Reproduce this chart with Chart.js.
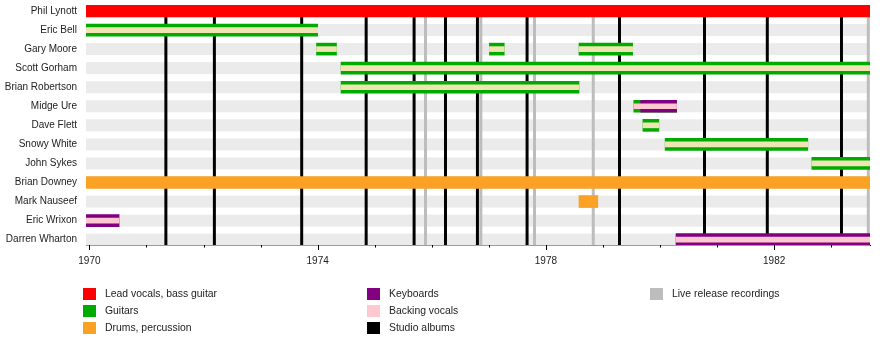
<!DOCTYPE html>
<html>
<head>
<meta charset="utf-8">
<title>Thin Lizzy timeline</title>
<script src="https://cdn.jsdelivr.net/npm/chart.js@4.4.0/dist/chart.umd.min.js"></script>
<style>
    body { margin: 0; background: #fff; }
    #wrap { position: relative; width: 890px; height: 345px; }
    #timeline { position: absolute; left: 0; top: 0; }
    .legend { position: absolute; font: 10.4px 'Liberation Sans', Arial, sans-serif; color: #222; }
    .legend div { position: absolute; white-space: nowrap; height: 12px; line-height: 12px; }
    .legend span { position: absolute; left: 0; top: 0; width: 13px; height: 12px; }
    .legend b { position: absolute; left: 22px; top: 0; font-weight: normal; }
</style>
</head>
<body>
<div id="wrap">
    <canvas id="timeline" width="890" height="345"></canvas>
    <div class="legend" id="legend"></div>
</div>
<script>
// Band members, top to bottom
const members = [
    'Phil Lynott', 'Eric Bell', 'Gary Moore', 'Scott Gorham', 'Brian Robertson',
    'Midge Ure', 'Dave Flett', 'Snowy White', 'John Sykes', 'Brian Downey',
    'Mark Nauseef', 'Eric Wrixon', 'Darren Wharton'
];

const timelineStart = 1969.94;
const timelineEnd = 1983.68;

// Periods per role: [member, from, to] in decimal years
const vocalsBass = [
    ['Phil Lynott', 1969.94, 1983.68]
];
const guitars = [
    ['Eric Bell', 1969.94, 1974.0],
    ['Gary Moore', 1973.98, 1974.33],
    ['Gary Moore', 1977.01, 1977.27],
    ['Gary Moore', 1978.58, 1979.52],
    ['Scott Gorham', 1974.41, 1983.68],
    ['Brian Robertson', 1974.41, 1978.58],
    ['Midge Ure', 1979.54, 1980.29],
    ['Dave Flett', 1979.70, 1979.98],
    ['Snowy White', 1980.09, 1982.59],
    ['John Sykes', 1982.66, 1983.68]
];
const drums = [
    ['Brian Downey', 1969.94, 1983.68],
    ['Mark Nauseef', 1978.58, 1978.91]
];
const keyboards = [
    ['Midge Ure', 1979.66, 1980.29],
    ['Eric Wrixon', 1969.94, 1970.52],
    ['Darren Wharton', 1980.28, 1983.68]
];
const backingVocals = [
    ['Eric Bell', 1969.94, 1974.0],
    ['Gary Moore', 1973.98, 1974.33],
    ['Gary Moore', 1977.01, 1977.27],
    ['Gary Moore', 1978.58, 1979.52],
    ['Scott Gorham', 1974.41, 1983.68],
    ['Brian Robertson', 1974.41, 1978.58],
    ['Midge Ure', 1979.54, 1980.29],
    ['Dave Flett', 1979.70, 1979.98],
    ['Snowy White', 1980.09, 1982.59],
    ['John Sykes', 1982.66, 1983.68],
    ['Eric Wrixon', 1969.94, 1970.52],
    ['Darren Wharton', 1980.28, 1983.68]
];

// Release dates
const studioAlbums = [1971.34, 1972.19, 1973.72, 1974.85, 1975.69, 1976.24, 1976.80, 1977.67, 1979.29, 1980.78, 1981.88, 1983.18];
const liveAlbums = [1975.89, 1976.86, 1977.80, 1978.83, 1983.65];

const years = [1970, 1971, 1972, 1973, 1974, 1975, 1976, 1977, 1978, 1979, 1980, 1981, 1982, 1983];

const colors = {
    vocals: '#ff0000',
    guitars: '#00ab00',
    drums: '#fba225',
    keyboards: '#800080',
    backing: '#ffc8d0',
    backingOnGuitar: '#f0e4b4',
    studio: '#000000',
    live: '#bdbdbd',
    stripe: '#ebebeb'
};

const toBars = (periods) => periods.map(p => ({ x: [p[1], p[2]], y: members.indexOf(p[0]), name: p[0] }));

const guitarOnly = new Set(guitars.map(p => p[0]).filter(n => !keyboards.some(k => k[0] === n)));

// Row stripes and release markers go under the bars
const backdrop = {
    id: 'backdrop',
    beforeDatasetsDraw(chart) {
        const { ctx, chartArea, scales } = chart;
        ctx.save();
        ctx.fillStyle = colors.stripe;
        members.forEach((m, i) => {
            const y = scales.y.getPixelForValue(i);
            ctx.fillRect(chartArea.left, y - 6, chartArea.width, 12);
        });
        const drawLines = (list, color) => {
            ctx.strokeStyle = color;
            ctx.lineWidth = 3;
            list.forEach(v => {
                const x = scales.x.getPixelForValue(v);
                ctx.beginPath();
                ctx.moveTo(x, chartArea.top);
                ctx.lineTo(x, chartArea.bottom);
                ctx.stroke();
            });
        };
        drawLines(liveAlbums, colors.live);
        drawLines(studioAlbums, colors.studio);
        ctx.restore();
    },
    afterDraw(chart) {
        // year tick marks, longer every fourth year
        const { ctx, chartArea, scales } = chart;
        ctx.save();
        ctx.strokeStyle = '#000';
        ctx.lineWidth = 1;
        years.forEach(yr => {
            const x = Math.round(scales.x.getPixelForValue(yr)) + 0.5;
            ctx.beginPath();
            ctx.moveTo(x, chartArea.bottom);
            ctx.lineTo(x, chartArea.bottom + (yr % 4 === 2 ? 5 : 2.5));
            ctx.stroke();
        });
        ctx.restore();
    }
};

function barSet(label, periods, color, thickness, order) {
    return {
        label,
        data: toBars(periods),
        backgroundColor: color,
        barThickness: thickness,
        borderWidth: 0,
        grouped: false,
        order
    };
}

const labelFont = { family: "'Liberation Sans', Arial, sans-serif", size: 10 };

new Chart(document.getElementById('timeline'), {
    type: 'bar',
    data: {
        datasets: [
            barSet('Backing vocals', backingVocals,
                ctx => guitarOnly.has(ctx.raw && ctx.raw.name) ? colors.backingOnGuitar : colors.backing, 5, 0),
            barSet('Keyboards', keyboards, colors.keyboards, 12, 1),
            barSet('Guitars', guitars, colors.guitars, 12, 2),
            barSet('Drums, percussion', drums, colors.drums, 12, 2),
            barSet('Lead vocals, bass guitar', vocalsBass, colors.vocals, 12, 2)
        ]
    },
    options: {
        indexAxis: 'y',
        responsive: false,
        animation: false,
        layout: { padding: { left: 0, top: 5, right: 20, bottom: 70 } },
        plugins: { legend: { display: false }, tooltip: { enabled: false } },
        scales: {
            x: {
                type: 'linear',
                min: timelineStart,
                max: timelineEnd,
                offset: false,
                grid: { display: false, drawTicks: false },
                border: { display: true, color: '#000', width: 1 },
                afterBuildTicks: scale => { scale.ticks = years.map(v => ({ value: v })); },
                afterFit: scale => {
                    scale.height = 30;
                    scale.paddingLeft = 0;
                    scale.paddingRight = 0;
                },
                ticks: {
                    autoSkip: false,
                    maxRotation: 0,
                    padding: 10,
                    color: '#222',
                    font: labelFont,
                    callback: v => (v % 4 === 2 ? String(v) : '')
                }
            },
            y: {
                type: 'linear',
                reverse: true,
                min: -0.315,
                max: 12.28,
                offset: false,
                grid: { display: false, drawTicks: false },
                border: { display: false },
                afterBuildTicks: scale => { scale.ticks = members.map((m, i) => ({ value: i })); },
                afterFit: scale => {
                    scale.width = 86;
                    scale.paddingTop = 0;
                    scale.paddingBottom = 0;
                },
                ticks: {
                    autoSkip: false,
                    padding: 9,
                    color: '#222',
                    font: labelFont,
                    callback: v => members[v]
                }
            }
        }
    },
    plugins: [backdrop]
});

// Legend in three columns under the chart
const legendItems = [
    ['Lead vocals, bass guitar', colors.vocals, 83, 288],
    ['Guitars', colors.guitars, 83, 305],
    ['Drums, percussion', colors.drums, 83, 322],
    ['Keyboards', colors.keyboards, 367, 288],
    ['Backing vocals', colors.backing, 367, 305],
    ['Studio albums', colors.studio, 367, 322],
    ['Live release recordings', colors.live, 650, 288]
];
const legend = document.getElementById('legend');
legendItems.forEach(([text, color, left, top]) => {
    const item = document.createElement('div');
    item.style.left = left + 'px';
    item.style.top = top + 'px';
    item.innerHTML = `<span style="background:${color}"></span><b>${text}</b>`;
    legend.appendChild(item);
});
</script>
</body>
</html>
